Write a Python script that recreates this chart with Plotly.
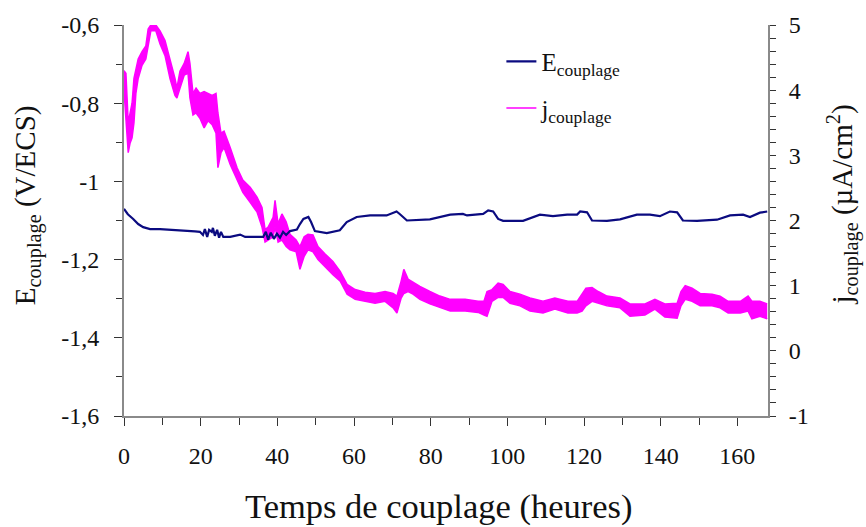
import plotly.graph_objects as go

# Temps de couplage (heures) et potentiel de couplage E (V/ECS)
t_E = [0.0, 1.0, 2.4, 3.7, 5.0, 6.8, 9.4, 13.3, 16.4, 18.5, 19.8, 20.6, 21.1, 21.7,
       22.2, 22.9, 23.2, 23.7, 24.3, 24.8, 25.3, 25.9, 27.7, 30.3, 31.6, 36.3, 37.0,
       37.6, 38.3, 39.1, 39.9, 40.7, 41.5, 42.3, 43.3, 45.1, 45.9, 46.8, 48.1, 48.8,
       49.8, 52.9, 56.3, 58.1, 60.7, 64.2, 68.5, 70.2, 71.1, 72.0, 73.8, 79.8, 82.4,
       85.1, 88.4, 89.5, 93.7, 95.0, 96.3, 97.6, 98.9, 104.1, 108.5, 111.9, 115.6,
       118.2, 119.0, 120.8, 122.1, 126.0, 129.4, 133.8, 137.2, 139.8, 142.4, 144.3,
       145.8, 149.5, 154.7, 158.1, 161.5, 163.3, 165.9, 167.8]
E_couplage = [-1.070, -1.084, -1.096, -1.109, -1.117, -1.122, -1.122, -1.124, -1.125,
              -1.128, -1.129, -1.137, -1.122, -1.142, -1.124, -1.129, -1.119, -1.139,
              -1.124, -1.144, -1.129, -1.142, -1.142, -1.136, -1.142, -1.142, -1.129,
              -1.149, -1.131, -1.147, -1.134, -1.144, -1.129, -1.137, -1.127, -1.123,
              -1.109, -1.096, -1.091, -1.104, -1.127, -1.132, -1.125, -1.104, -1.091,
              -1.087, -1.087, -1.081, -1.077, -1.084, -1.100, -1.097, -1.091, -1.085,
              -1.083, -1.087, -1.083, -1.074, -1.077, -1.096, -1.101, -1.101, -1.085,
              -1.089, -1.085, -1.085, -1.077, -1.079, -1.100, -1.101, -1.097, -1.085,
              -1.085, -1.089, -1.077, -1.079, -1.100, -1.101, -1.098, -1.087, -1.085,
              -1.091, -1.080, -1.077]

# Densite de courant de couplage j (uA/cm2) : bornes haute et basse du signal bruite
t_j = [0.0, 0.5, 1.1, 1.6, 2.1, 2.6, 3.1, 3.7, 4.7, 5.7, 6.3, 7.0, 8.3, 9.4, 10.7, 12.0,
       13.3, 13.8, 14.6, 15.7, 16.7, 17.2, 18.0, 18.8, 19.8, 20.9, 21.9, 23.0, 24.0,
       24.5, 25.3, 26.1, 27.7, 29.5, 31.0, 32.9, 34.7, 36.0, 36.8, 37.6, 38.9, 39.4,
       40.2, 41.2, 42.3, 43.3, 44.9, 45.9, 47.0, 48.0, 49.3, 50.6, 52.4, 54.5, 56.4,
       58.2, 60.3, 62.9, 65.5, 68.1, 70.2, 71.2, 72.3, 73.0, 74.1, 75.4, 77.2, 79.8,
       82.4, 85.1, 89.0, 92.4, 93.9, 94.7, 96.0, 97.6, 98.9, 100.7, 103.3, 105.9,
       109.3, 112.4, 115.8, 118.2, 119.5, 120.5, 122.1, 123.7, 126.0, 129.4, 132.0,
       135.9, 138.5, 141.1, 144.3, 145.3, 146.4, 148.2, 150.3, 153.4, 155.5, 157.6,
       160.8, 162.8, 163.8, 165.9, 167.8]
j_haut = [4.30, 4.26, 3.50, 3.65, 3.80, 4.18, 4.33, 4.48, 4.59, 4.68, 4.94, 5.00, 5.00,
          4.91, 4.76, 4.48, 4.18, 4.03, 4.29, 4.41, 4.59, 4.41, 3.95, 4.03, 3.95, 3.98,
          3.95, 3.92, 3.95, 3.65, 3.34, 3.37, 3.12, 2.81, 2.62, 2.51, 2.36, 2.20, 1.86,
          1.90, 2.05, 2.31, 1.95, 2.10, 1.98, 1.79, 1.70, 1.60, 1.75, 1.79, 1.78, 1.60,
          1.49, 1.37, 1.22, 1.02, 0.94, 0.90, 0.88, 0.91, 0.88, 0.84, 1.07, 1.25, 1.10,
          1.05, 0.99, 0.91, 0.84, 0.79, 0.79, 0.76, 0.76, 0.91, 0.94, 1.04, 1.02, 0.91,
          0.87, 0.81, 0.76, 0.81, 0.76, 0.76, 0.88, 0.96, 0.97, 0.91, 0.84, 0.81, 0.72,
          0.72, 0.79, 0.72, 0.73, 0.91, 1.00, 0.96, 0.88, 0.87, 0.84, 0.76, 0.76, 0.84,
          0.76, 0.76, 0.72]
j_bas = [3.99, 3.50, 3.04, 3.19, 3.27, 3.50, 3.95, 4.18, 4.38, 4.48, 4.71, 4.91, 4.91,
         4.71, 4.53, 4.18, 3.92, 3.88, 4.03, 4.23, 4.26, 3.88, 3.62, 3.65, 3.57, 3.42,
         3.53, 3.47, 3.34, 2.81, 3.04, 3.12, 2.86, 2.62, 2.43, 2.28, 2.13, 1.90, 1.67,
         1.70, 1.75, 1.90, 1.67, 1.70, 1.60, 1.55, 1.52, 1.25, 1.45, 1.55, 1.52, 1.40,
         1.29, 1.17, 1.07, 0.87, 0.79, 0.76, 0.73, 0.76, 0.66, 0.58, 0.81, 0.88, 0.91,
         0.87, 0.79, 0.72, 0.66, 0.61, 0.61, 0.59, 0.55, 0.53, 0.76, 0.82, 0.82, 0.73,
         0.69, 0.61, 0.58, 0.64, 0.58, 0.58, 0.61, 0.69, 0.76, 0.73, 0.69, 0.66, 0.53,
         0.55, 0.64, 0.52, 0.50, 0.69, 0.79, 0.76, 0.69, 0.69, 0.66, 0.58, 0.58, 0.61,
         0.49, 0.53, 0.49]

# Graduations
x_ticks = [0, 20, 40, 60, 80, 100, 120, 140, 160]
E_ticks = [-0.6, -0.8, -1.0, -1.2, -1.4, -1.6]
E_ticklabels = ["-0,6", "-0,8", "-1", "-1,2", "-1,4", "-1,6"]
j_ticks = [5, 4, 3, 2, 1, 0, -1]
j_ticklabels = ["5", "4", "3", "2", "1", "0", "-1"]

SERIF = "Liberation Serif"
INK = "#111111"
NAVY = "#0b0b80"
MAGENTA = "#ff00ff"
AXIS_GREY = "#8a8a8a"

fig = go.Figure()

# E : potentiel de couplage (axe de gauche, trace au premier plan)
fig.add_trace(go.Scatter(
    x=t_E, y=E_couplage, mode="lines", name="E<sub>couplage</sub>",
    line=dict(color=NAVY, width=2.2), yaxis="y2", legendgroup="E",
))
# j : bande bruitee (borne haute + remplissage jusqu'a la borne basse)
fig.add_trace(go.Scatter(
    x=t_j, y=j_haut, mode="lines", name="j<sub>couplage</sub>",
    line=dict(color=MAGENTA, width=1.5), yaxis="y", legendgroup="j",
))
fig.add_trace(go.Scatter(
    x=t_j, y=j_bas, mode="lines", showlegend=False, fill="tonexty",
    fillcolor=MAGENTA, line=dict(color=MAGENTA, width=1.5), yaxis="y",
    legendgroup="j", hoverinfo="skip",
))

tick_font = dict(family=SERIF, size=24, color=INK)
common_axis = dict(
    showgrid=False, zeroline=False, showline=True, linecolor=AXIS_GREY, linewidth=2,
    ticks="outside", tickcolor="#333333", tickwidth=1,
)

fig.update_layout(
    width=866, height=527,
    margin=dict(l=124, r=98, t=21, b=111),
    paper_bgcolor="white", plot_bgcolor="white",
    font=dict(family=SERIF, size=24, color=INK),
    showlegend=True,
    legend=dict(
        x=0.586, y=0.965, xanchor="left", yanchor="top",
        bgcolor="rgba(0,0,0,0)", borderwidth=0,
        font=dict(family=SERIF, size=25, color=INK),
        traceorder="grouped", tracegroupgap=11, itemwidth=30,
    ),
    xaxis=dict(
        range=[0, 168], tickvals=x_ticks, ticklen=8, tickfont=tick_font,
        minor=dict(dtick=10, ticks="outside", ticklen=7, tickcolor="#333333"),
        ticklabelstandoff=9,
        **common_axis,
    ),
    yaxis=dict(
        side="right", range=[-1, 5], tickvals=j_ticks, ticktext=j_ticklabels,
        ticklen=6, tickfont=tick_font,
        minor=dict(dtick=0.2, ticks="outside", ticklen=6, tickcolor="#333333"),
        ticklabelstandoff=8,
        **common_axis,
    ),
    yaxis2=dict(
        side="left", overlaying="y", range=[-1.6, -0.6], tickvals=E_ticks,
        ticktext=E_ticklabels, ticklen=8, tickfont=tick_font,
        minor=dict(dtick=0.1, ticks="outside", ticklen=6, tickcolor="#333333"),
        ticklabelstandoff=10,
        **common_axis,
    ),
    annotations=[
        dict(text="Temps de couplage (heures)", xref="paper", yref="paper",
             x=0.488, y=-0.231, xanchor="center", yanchor="middle", showarrow=False,
             font=dict(family=SERIF, size=34.5, color=INK)),
        dict(text="E<sub>couplage</sub> (V/ECS)", xref="paper", yref="paper",
             x=-0.15, y=0.54, xanchor="center", yanchor="middle", textangle=-90,
             showarrow=False, font=dict(family=SERIF, size=29, color=INK)),
        dict(text="j<sub>couplage</sub> (µA/cm<sup>2</sup>)", xref="paper", yref="paper",
             x=1.116, y=0.54, xanchor="center", yanchor="middle", textangle=-90,
             showarrow=False, font=dict(family=SERIF, size=29, color=INK)),
    ],
)

fig.write_html("out.html")
